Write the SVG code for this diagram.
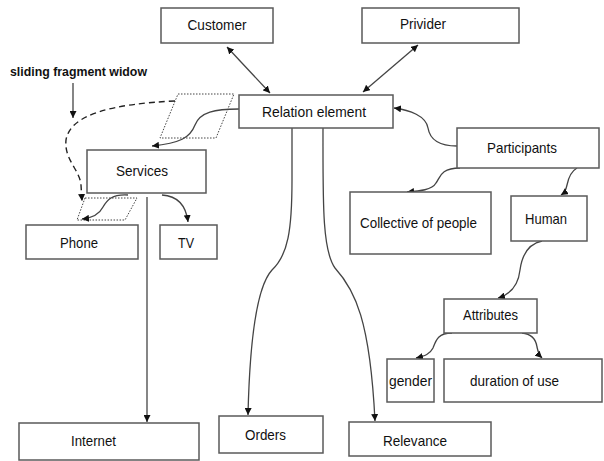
<svg xmlns="http://www.w3.org/2000/svg" width="604" height="461" viewBox="0 0 604 461">
<defs>
<style>
.box{fill:#fff;stroke:#5a5a5a;stroke-width:1.5}
.t{font-family:"Liberation Sans",Arial,sans-serif;font-size:14.8px;fill:#111;text-anchor:middle}
.c{fill:none;stroke:#444;stroke-width:1.3}
.dash{fill:none;stroke:#222;stroke-width:1.4;stroke-dasharray:6,4}
.par{fill:none;stroke:#444;stroke-width:1;stroke-dasharray:1.5,1.5}
</style>
<marker id="ah" viewBox="0 0 10 10" refX="10" refY="5" markerWidth="7" markerHeight="7" markerUnits="userSpaceOnUse" orient="auto-start-reverse">
<path d="M0,0 L10,5 L0,10 z" fill="#111"/>
</marker>
</defs>
<rect width="604" height="461" fill="#fff"/>

<g id="label">
<text x="10" y="76" font-family="'Liberation Sans',Arial,sans-serif" font-size="13" font-weight="bold" fill="#111" textLength="137" lengthAdjust="spacingAndGlyphs">sliding fragment widow</text>
</g>

<g id="windows">
<polygon class="par" points="178,94 234,94 216,138 160,138"/>
<polygon class="par" points="85,198 137,198 125,220 77,220"/>
</g>

<g id="connectors">
<path class="c" d="M227,47 L270,93" marker-start="url(#ah)" marker-end="url(#ah)"/>
<path class="c" d="M418,45 L363,92" marker-start="url(#ah)" marker-end="url(#ah)"/>
<path class="c" d="M457,146 C440,146 430,140 428,128 C426,116 410,110 394,108" marker-end="url(#ah)"/>
<path class="c" d="M239,109 C215,109 200,112 195,125 C190,138 180,143 152,146" marker-end="url(#ah)"/>
<path class="dash" d="M175,101 C110,104 70,115 66,140 C64,160 80,170 81,185 L82,201" marker-end="url(#ah)"/>
<path class="c" d="M73,83 L73,118" marker-end="url(#ah)"/>
<path class="c" d="M128,195 C112,194 107,200 103,207 C99,215 92,218 82,219" marker-end="url(#ah)"/>
<path class="c" d="M162,195 C178,196 186,205 188,222" marker-end="url(#ah)"/>
<path class="c" d="M147,197 L147,422" marker-end="url(#ah)"/>
<path class="c" d="M292,128 L292,180 C292,230 288,255 272,270 C258,285 250,330 248,415" marker-end="url(#ah)"/>
<path class="c" d="M323,128 C323,200 322,250 335,268 C355,290 370,320 375,421" marker-end="url(#ah)"/>
<path class="c" d="M460,168 C440,168 440,178 436,183 C432,190 420,191 407,192" marker-end="url(#ah)"/>
<path class="c" d="M577,168 C570,172 568,180 567,185 C566,190 564,193 561,195" marker-end="url(#ah)"/>
<path class="c" d="M542,241 C528,244 522,255 520,270 C518,288 508,295 498,298" marker-end="url(#ah)"/>
<path class="c" d="M452,333 C438,333 436,340 433,348 C430,354 425,356 416,358" marker-end="url(#ah)"/>
<path class="c" d="M522,333 C532,334 536,340 537,347 C538,352 540,356 542,358" marker-end="url(#ah)"/>
</g>

<g id="customer"><rect class="box" x="161" y="8" width="112" height="35"/><text class="t" x="217" y="30" textLength="59" lengthAdjust="spacingAndGlyphs">Customer</text></g>
<g id="provider"><rect class="box" x="362" y="8" width="157" height="35"/><text class="t" x="423" y="29" textLength="46" lengthAdjust="spacingAndGlyphs">Privider</text></g>
<g id="relation"><rect class="box" x="239" y="95" width="154" height="33"/><text class="t" x="314" y="117" textLength="104" lengthAdjust="spacingAndGlyphs">Relation element</text></g>
<g id="participants"><rect class="box" x="457" y="128" width="142" height="40"/><text class="t" x="522" y="153" textLength="70" lengthAdjust="spacingAndGlyphs">Participants</text></g>
<g id="services"><rect class="box" x="87" y="150" width="119" height="43"/><text class="t" x="142" y="176" textLength="52" lengthAdjust="spacingAndGlyphs">Services</text></g>
<g id="phone"><rect class="box" x="26" y="225" width="112" height="34"/><text class="t" x="79" y="248" textLength="38" lengthAdjust="spacingAndGlyphs">Phone</text></g>
<g id="tv"><rect class="box" x="160" y="225" width="57" height="34"/><text class="t" x="186" y="248" textLength="16" lengthAdjust="spacingAndGlyphs">TV</text></g>
<g id="collective"><rect class="box" x="350" y="192" width="141" height="62"/><text class="t" x="418.5" y="228" textLength="117" lengthAdjust="spacingAndGlyphs">Collective of people</text></g>
<g id="human"><rect class="box" x="511" y="196" width="76" height="45"/><text class="t" x="546" y="224" textLength="42" lengthAdjust="spacingAndGlyphs">Human</text></g>
<g id="attributes"><rect class="box" x="444" y="299" width="93" height="34"/><text class="t" x="490.5" y="320" textLength="55" lengthAdjust="spacingAndGlyphs">Attributes</text></g>
<g id="gender"><rect class="box" x="387" y="359" width="47" height="43"/><text class="t" x="410.5" y="386" textLength="43" lengthAdjust="spacingAndGlyphs">gender</text></g>
<g id="duration"><rect class="box" x="444" y="359" width="158" height="43"/><text class="t" x="514.5" y="386" textLength="89" lengthAdjust="spacingAndGlyphs">duration of use</text></g>
<g id="internet"><rect class="box" x="19" y="423" width="180" height="37"/><text class="t" x="93.5" y="446" textLength="45" lengthAdjust="spacingAndGlyphs">Internet</text></g>
<g id="orders"><rect class="box" x="219" y="416" width="104" height="37"/><text class="t" x="265.5" y="440" textLength="41" lengthAdjust="spacingAndGlyphs">Orders</text></g>
<g id="relevance"><rect class="box" x="349" y="422" width="142" height="34"/><text class="t" x="415" y="446" textLength="64" lengthAdjust="spacingAndGlyphs">Relevance</text></g>
</svg>
